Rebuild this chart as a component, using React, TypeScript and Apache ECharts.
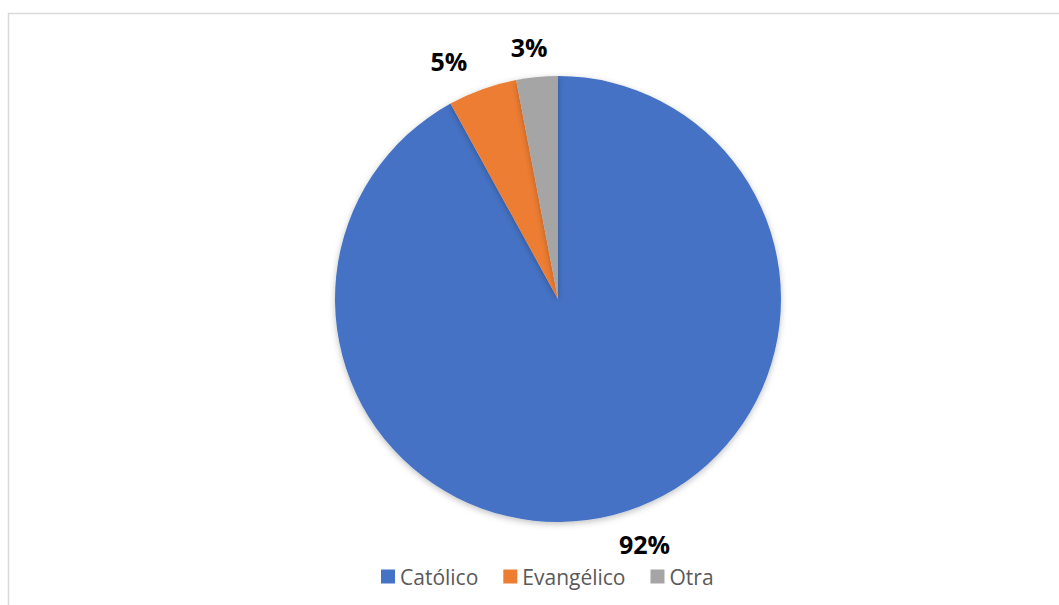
import React, { useEffect, useRef } from "react";
import * as echarts from "echarts";

const categories = ["Católico", "Evangélico", "Otra"];
const values = [92, 5, 3];
const colors = ["#4472C4", "#ED7D31", "#A5A5A5"];

export default function App() {
  const ref = useRef<HTMLDivElement>(null);
  useEffect(() => {
    const chart = echarts.init(ref.current!, null, { renderer: "svg" });
    chart.setOption({
      animation: false,
      backgroundColor: "#ffffff",
      graphic: [
        {
          type: "rect",
          shape: { x: 8.5, y: 13.5, width: 1070, height: 610 },
          style: { fill: "none", stroke: "#d9d9d9", lineWidth: 1.5 },
          silent: true,
        },
      ],
      legend: {
        left: 376,
        top: 561,
        itemWidth: 14,
        itemHeight: 14,
        itemGap: 25,
        icon: "rect",
        textStyle: { fontFamily: "Open Sans", fontSize: 21, color: "#595959" },
        data: categories,
      },
      series: [
        {
          type: "pie",
          center: [558, 299],
          radius: 223,
          startAngle: 90,
          clockwise: true,
          avoidLabelOverlap: false,
          color: colors,
          itemStyle: {
            shadowBlur: 6,
            shadowColor: "rgba(0,0,0,0.25)",
            shadowOffsetY: 2,
          },
          label: {
            show: true,
            position: "outside",
            formatter: "{d}%",
            fontFamily: "Open Sans",
            fontWeight: "bold",
            fontSize: 25,
            color: "#000000",
          },
          labelLine: { show: false, length: 30, length2: 0 },
          labelLayout: (p: any) =>
            p.dataIndex === 2 ? { align: "center" } : p.dataIndex === 0 ? { dx: -7 } : {},
          data: categories.map((c, i) => ({ name: c, value: values[i] })),
        },
      ],
    });
    return () => chart.dispose();
  }, []);
  return (
    <div
      ref={ref}
      style={{ position: "absolute", left: 0, top: 0, width: 1059, height: 605 }}
    />
  );
}
